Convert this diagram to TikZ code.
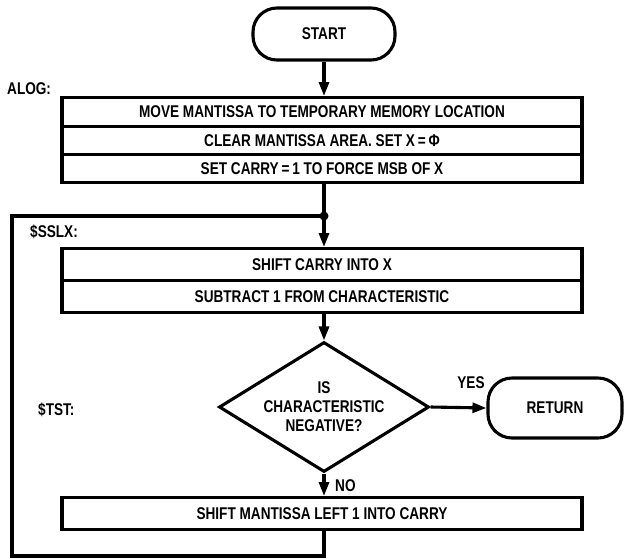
\documentclass[tikz,border=0pt]{standalone}
\usepackage{fontspec}
\setmainfont{Liberation Sans}[FakeStretch=0.8]
\usetikzlibrary{arrows.meta,shapes.geometric}
\begin{document}
\begin{tikzpicture}[x=1pt,y=-1pt,
  every node/.style={font=\fontsize{17}{19}\selectfont\bfseries},
  ln/.style={line width=3.1pt,line join=miter},
  arr/.style={ln,-{Triangle[length=14pt,width=10pt]}},
  rowbox/.style={draw,line width=3.1pt,minimum width=520pt,inner sep=0pt,anchor=north},
  term/.style={draw,line width=3.1pt,rounded corners=24pt,inner sep=0pt},
  lbl/.style={anchor=west,inner sep=0pt}]
\useasboundingbox (0,0) rectangle (624,558);
% terminals
\node[term,minimum width=142pt,minimum height=52pt] (start) at (324,34) {START};
\node[term,minimum width=134pt,minimum height=60pt] (ret) at (555,408) {RETURN};
% labels
\node[lbl] (alog) at (7,89) {ALOG:};
\node[lbl] (sslx) at (30,232) {\$SSLX:};
\node[lbl] (tst) at (38,410) {\$TST:};
% box 1
\node[rowbox,minimum height=29pt] (b1a) at (322,96) {MOVE MANTISSA TO TEMPORARY MEMORY LOCATION};
\node[rowbox,minimum height=28pt] (b1b) at (322,125) {CLEAR MANTISSA AREA. SET X\,=\,Φ};
\node[rowbox,minimum height=28pt] (b1c) at (322,153) {SET CARRY\,=\,1 TO FORCE MSB OF X};
% junction
\coordinate (j) at (324,216);
\fill (j) circle (4.5pt);
% box 2
\node[rowbox,minimum height=32pt] (b2a) at (322,247) {SHIFT CARRY INTO X};
\node[rowbox,minimum height=32pt] (b2b) at (322,279) {SUBTRACT 1 FROM CHARACTERISTIC};
% decision
\node[draw,line width=3.1pt,diamond,aspect=1.615,minimum width=210pt,minimum height=130pt,inner sep=0pt,align=center] (dia) at (324,407) {IS\\CHARACTERISTIC\\NEGATIVE?};
\node (yes) at (471,383) {YES};
\node[lbl] (no) at (335,486) {NO};
% box 3
\node[rowbox,minimum height=32pt] (b3) at (322,496) {SHIFT MANTISSA LEFT 1 INTO CARRY};
% loop corners
\coordinate (c1) at (324,556);
\coordinate (c2) at (12,556);
\coordinate (c3) at (12,216);
% connectors
\draw[arr] (start.south) -- (start.south |- b1a.north);
\draw[ln] (b1c.south -| j) -- (j);
\draw[arr] (j) -- (j |- b2a.north);
\draw[arr] (b2b.south -| dia) -- (dia.north);
\draw[arr] (dia.east) -- (ret.west);
\draw[arr] (dia.south) -- (dia.south |- b3.north);
\draw[ln] (b3.south -| j) -- (c1) -- (c2) -- (c3) -- (j);
\end{tikzpicture}
\end{document}
